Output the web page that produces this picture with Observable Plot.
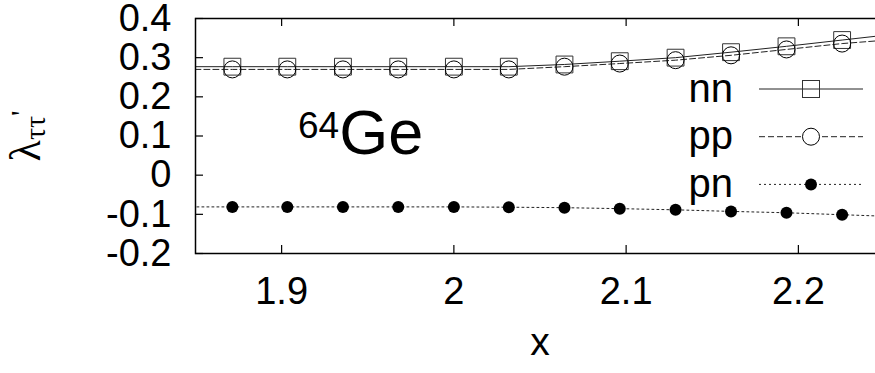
<!DOCTYPE html>
<html>
<head>
<meta charset="utf-8">
<script src="https://cdn.jsdelivr.net/npm/d3@7"></script>
<script src="https://cdn.jsdelivr.net/npm/@observablehq/plot@0.6"></script>
<style>
  html, body { margin: 0; padding: 0; background: #fff; overflow: hidden; }
  #chart { width: 875px; height: 373px; overflow: hidden; }
  #chart svg { max-width: none !important; }
</style>
</head>
<body>
<div id="chart"></div>
<script>
// ---- data ----
const xs   = [1.8392, 1.8714, 1.9033, 1.9356, 1.9677, 2.0000, 2.0319, 2.0642, 2.0963, 2.1287, 2.1609, 2.1931, 2.2254, 2.2577];
const nn   = [0.277, 0.277, 0.277, 0.277, 0.277, 0.277, 0.277, 0.2826, 0.291, 0.300, 0.314, 0.329, 0.345, 0.361];
const pp   = [0.270, 0.270, 0.270, 0.270, 0.270, 0.270, 0.270, 0.277, 0.285, 0.2936, 0.306, 0.321, 0.336, 0.347];
const pn   = [-0.081, -0.081, -0.081, -0.081, -0.081, -0.081, -0.0818, -0.083, -0.0855, -0.0885, -0.0925, -0.096, -0.101, -0.106];
const xTicks = [1.9, 2.0, 2.1, 2.2];
const yTicks = [-0.2, -0.1, 0, 0.1, 0.2, 0.3, 0.4];
const seriesNames = ["nn", "pp", "pn"];

const rows = xs.map((x, i) => ({x, nn: nn[i], pp: pp[i], pn: pn[i]}));

const W = 890, H = 373, ML = 195, MR = 6, MT = 18, MB = 120;
const FW = W - ML - MR, FH = H - MT - MB, TL = 8;
const fmt = d => String(Math.round(d * 10) / 10);
const FONT = "'Liberation Sans', Arial, sans-serif";

const plot = Plot.plot({
  width: W, height: H,
  marginLeft: ML, marginRight: MR, marginTop: MT, marginBottom: MB,
  style: {fontFamily: FONT, fontSize: "38px", color: "black", background: "white", maxWidth: "none"},
  x: {domain: [1.85, 2.25], ticks: xTicks, tickSize: 0, tickPadding: 24, tickFormat: fmt, label: null},
  y: {domain: [-0.2, 0.4], ticks: yTicks, tickSize: 0, tickPadding: 24, tickFormat: fmt, label: null},
  marks: [
    Plot.tickX(xTicks, {x: d => d, insetTop: FH - TL, stroke: "black", strokeWidth: 1.2}),
    Plot.tickX(xTicks, {x: d => d, insetBottom: FH - TL, stroke: "black", strokeWidth: 1.2}),
    Plot.tickY(yTicks, {y: d => d, insetRight: FW - TL, stroke: "black", strokeWidth: 1.2}),
    Plot.tickY(yTicks, {y: d => d, insetLeft: FW - TL, stroke: "black", strokeWidth: 1.2}),
    Plot.line(rows, {x: "x", y: "nn", stroke: "#222", strokeWidth: 1, clip: true}),
    Plot.line(rows, {x: "x", y: "pp", stroke: "#222", strokeWidth: 1, strokeDasharray: "6,3", clip: true}),
    Plot.line(rows, {x: "x", y: "pn", stroke: "#222", strokeWidth: 1, strokeDasharray: "2,3", clip: true}),
    Plot.dot(rows, {x: "x", y: "nn", symbol: "square", r: 9.5, stroke: "#333", fill: "none", strokeWidth: 1, clip: true}),
    Plot.dot(rows, {x: "x", y: "pp", symbol: "circle", r: 8.5, stroke: "black", fill: "none", strokeWidth: 1, clip: true}),
    Plot.dot(rows, {x: "x", y: "pn", symbol: "circle", r: 6, fill: "black", stroke: "none", clip: true}),
    Plot.frame({stroke: "black", strokeWidth: 1.5}),
    Plot.text(["x"], {frameAnchor: "bottom", dy: 101, text: d => d, fontSize: 39})
  ]
});
plot.style.maxWidth = "none";
plot.style.width = W + "px";
plot.style.height = H + "px";
document.getElementById("chart").appendChild(plot);

// ---- annotations: legend, y label, nucleus ----
const svg = d3.select(plot);
const g = svg.append("g").attr("font-family", FONT).attr("fill", "black");

// nucleus label 64Ge
const t = g.append("text").attr("x", 298).attr("y", 154).attr("font-size", 63)
  .attr("text-anchor", "start");
t.append("tspan").attr("font-size", 37).attr("dy", -16).text("64");
t.append("tspan").attr("dy", 16).text("Ge");

// y-axis label λ_{ττ'}
const yl = g.append("text")
  .attr("transform", "translate(40,136) rotate(-90)")
  .attr("text-anchor", "middle")
  .attr("font-family", "'Liberation Serif', 'DejaVu Serif', serif")
  .attr("font-size", 44);
yl.append("tspan").text("λ");
yl.append("tspan").attr("font-size", 30).attr("dy", 5).text("ττ");
yl.append("tspan").attr("font-size", 30).attr("dy", -14).text("'");

// legend
const dashes = [null, "6,3", "2,3"];
seriesNames.forEach((name, i) => {
  const y = 89 + i * 47.7;
  g.append("text").attr("x", 733).attr("y", y + 12.5).attr("text-anchor", "end")
    .attr("font-size", 40).text(name);
  g.append("line").attr("x1", 759).attr("x2", 863).attr("y1", y).attr("y2", y)
    .attr("stroke", "#222").attr("stroke-width", 1)
    .attr("stroke-dasharray", dashes[i]);
  if (i === 0) {
    g.append("rect").attr("x", 811 - 8.5).attr("y", y - 8.5).attr("width", 17).attr("height", 17)
      .attr("fill", "none").attr("stroke", "#333");
  } else if (i === 1) {
    g.append("circle").attr("cx", 811).attr("cy", y).attr("r", 8.5).attr("fill", "white").attr("stroke", "black");
  } else {
    g.append("circle").attr("cx", 811).attr("cy", y).attr("r", 6).attr("fill", "black");
  }
});
</script>
</body>
</html>
